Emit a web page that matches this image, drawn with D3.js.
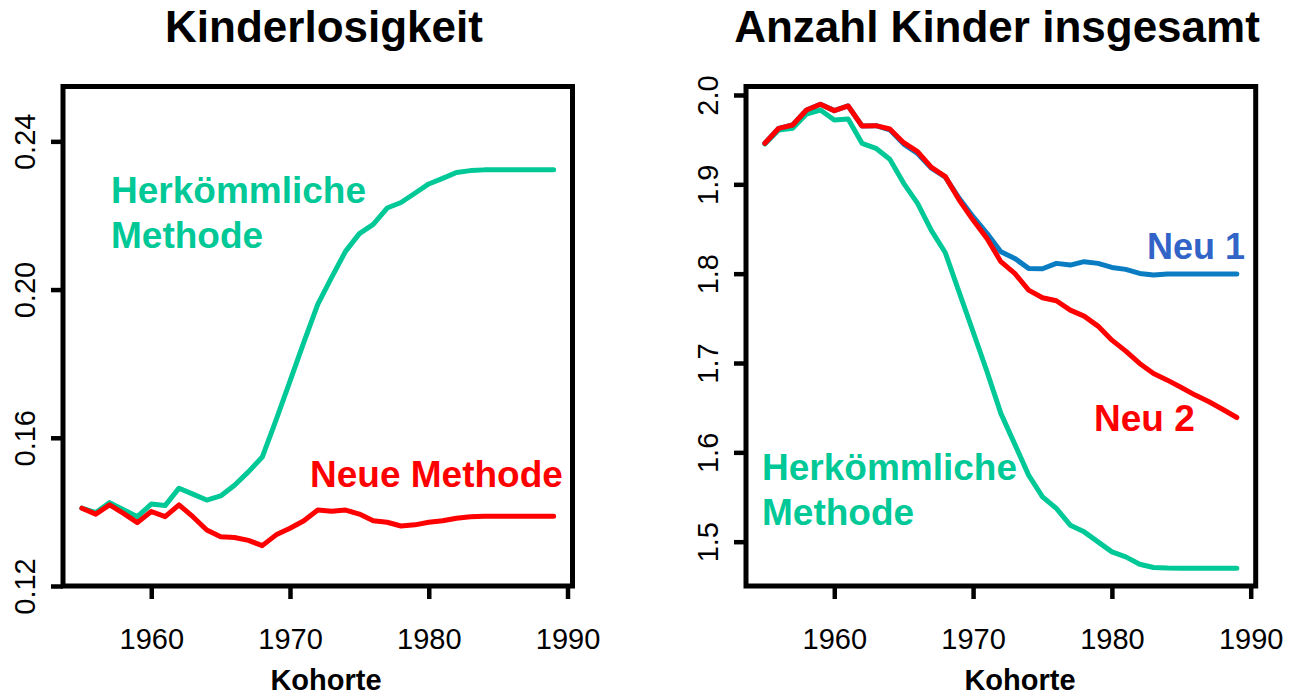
<!DOCTYPE html>
<html>
<head>
<meta charset="utf-8">
<script src="https://cdn.jsdelivr.net/npm/d3@7"></script>
<style>
  body { margin: 0; background: #fff; }
  text { font-family: "Liberation Sans", Arial, Helvetica, sans-serif; }
</style>
</head>
<body>
<div id="chart"></div>
<script>
// Kohorten 1955 - 1989
var years = d3.range(1955, 1990);

// Kinderlosigkeit (Anteil)
var kinderlosHerk = [0.1410, 0.1398, 0.1425, 0.1406, 0.1387, 0.1421, 0.1417, 0.1464, 0.1448, 0.1432,
    0.1443, 0.1472, 0.1508, 0.1548, 0.1648, 0.1753, 0.1858, 0.1960, 0.2033, 0.2103,
    0.2151, 0.2176, 0.2220, 0.2235, 0.2260, 0.2285, 0.2300, 0.2316, 0.2321, 0.2323,
    0.2323, 0.2323, 0.2323, 0.2323, 0.2323];
var kinderlosNeu = [0.1410, 0.1394, 0.1419, 0.1396, 0.1371, 0.1401, 0.1387, 0.1419, 0.1387, 0.1351,
    0.1333, 0.1331, 0.1323, 0.1309, 0.1338, 0.1356, 0.1376, 0.1405, 0.1402, 0.1405,
    0.1394, 0.1376, 0.1372, 0.1362, 0.1365, 0.1372, 0.1376, 0.1383, 0.1387, 0.1388,
    0.1388, 0.1388, 0.1388, 0.1388, 0.1388];

// Anzahl Kinder insgesamt
var kinderHerk = [1.9452, 1.9608, 1.9627, 1.9787, 1.9832, 1.9720, 1.9731, 1.9459, 1.9403, 1.9280,
    1.9011, 1.8787, 1.8481, 1.8234, 1.7790, 1.7350, 1.6905, 1.6436, 1.6092, 1.5745,
    1.5502, 1.5372, 1.5185, 1.5110, 1.4998, 1.4886, 1.4830, 1.4748, 1.4711, 1.4705,
    1.4703, 1.4703, 1.4703, 1.4703, 1.4703];
var kinderNeu1 = [1.9459, 1.9627, 1.9664, 1.9832, 1.9896, 1.9825, 1.9877, 1.9653, 1.9657, 1.9610,
    1.9450, 1.9345, 1.9180, 1.9080, 1.8843, 1.8638, 1.8451, 1.8246, 1.8171, 1.8059,
    1.8055, 1.8115, 1.8096, 1.8134, 1.8115, 1.8070, 1.8048, 1.8003, 1.7984, 1.7995,
    1.7995, 1.7995, 1.7995, 1.7995, 1.7995];
var kinderNeu2 = [1.9459, 1.9627, 1.9664, 1.9832, 1.9896, 1.9825, 1.9877, 1.9653, 1.9657, 1.9619,
    1.9466, 1.9365, 1.9190, 1.9086, 1.8824, 1.8600, 1.8395, 1.8134, 1.8003, 1.7816,
    1.7730, 1.7697, 1.7592, 1.7525, 1.7413, 1.7256, 1.7133, 1.6995, 1.6883, 1.6808,
    1.6726, 1.6641, 1.6566, 1.6480, 1.6390];

var xTicks = [1960, 1970, 1980, 1990];
var yTicksLeft = [0.12, 0.16, 0.20, 0.24];
var yTicksRight = [1.5, 1.6, 1.7, 1.8, 1.9, 2.0];

var teal = "#00c896", red = "#ff0000", blueLine = "#0a7cc2", blueText = "#3264c8";

var svg = d3.select("#chart")
    .append("svg")
    .attr("width", 1301)
    .attr("height", 697);

function panel(opt) {
    var x = d3.scaleLinear().domain([1953.64, 1990.36]).range([opt.left, opt.right]);
    var y = d3.scaleLinear().domain(opt.yDomain).range([586, 86.5]);
    var g = svg.append("g");

    // x axis
    var xAxis = g.append("g")
        .attr("transform", "translate(0,586)")
        .call(d3.axisBottom(x).tickValues(xTicks).tickFormat(d3.format("d")).tickSize(13).tickPadding(29));
    xAxis.select(".domain").remove();
    xAxis.selectAll(".tick line").attr("stroke-width", 4.5);
    xAxis.selectAll(".tick text")
        .style("font-size", "29px")
        .attr("fill", "#000");

    // y axis, rotated labels
    var yAxis = g.append("g")
        .attr("transform", "translate(" + opt.left + ",0)")
        .call(d3.axisLeft(y).tickValues(opt.yTicks).tickFormat(opt.yFormat).tickSize(12));
    yAxis.select(".domain").remove();
    yAxis.selectAll(".tick line").attr("stroke-width", 4.5);
    yAxis.selectAll(".tick text")
        .attr("x", 0).attr("dy", null)
        .attr("transform", "translate(-28,0) rotate(-90)")
        .attr("text-anchor", "middle")
        .style("font-size", "29px")
        .attr("fill", "#000");

    var line = d3.line()
        .x(function (d, i) { return x(years[i]); })
        .y(function (d) { return y(d); });

    opt.series.forEach(function (s) {
        g.append("path")
            .datum(s.values)
            .attr("d", line)
            .attr("fill", "none")
            .attr("stroke", s.color)
            .attr("stroke-width", 5)
            .attr("stroke-linejoin", "round")
            .attr("stroke-linecap", "round");
    });

    // box
    g.append("rect")
        .attr("x", opt.left).attr("y", 86.5)
        .attr("width", opt.right - opt.left).attr("height", 586 - 86.5)
        .attr("fill", "none")
        .attr("stroke", "#000")
        .attr("stroke-width", 5);

    g.append("text")
        .attr("x", opt.titleX).attr("y", 42)
        .attr("text-anchor", "middle")
        .style("font-size", "44px").style("font-weight", "bold")
        .text(opt.title);

    g.append("text")
        .attr("x", opt.xLabelX).attr("y", 690)
        .attr("text-anchor", "middle")
        .style("font-size", "29px").style("font-weight", "bold")
        .text("Kohorte");

    opt.labels.forEach(function (l) {
        var t = g.append("text")
            .attr("x", l.x).attr("y", l.y)
            .attr("fill", l.color)
            .style("font-size", l.size + "px").style("font-weight", "bold");
        l.lines.forEach(function (s, i) {
            t.append("tspan").attr("x", l.x).attr("dy", i === 0 ? 0 : 44.5).text(s);
        });
    });
}

panel({
    left: 63, right: 572.5,
    yDomain: [0.12, 0.2548],
    yTicks: yTicksLeft,
    yFormat: d3.format(".2f"),
    title: "Kinderlosigkeit", titleX: 324, xLabelX: 326,
    series: [
        { values: kinderlosHerk, color: teal },
        { values: kinderlosNeu, color: red }
    ],
    labels: [
        { lines: ["Herkömmliche", "Methode"], x: 111, y: 203, color: teal, size: 37 },
        { lines: ["Neue Methode"], x: 310, y: 487, color: red, size: 37 }
    ]
});

panel({
    left: 746, right: 1255.7,
    yDomain: [1.4504, 2.0095],
    yTicks: yTicksRight,
    yFormat: d3.format(".1f"),
    title: "Anzahl Kinder insgesamt", titleX: 997, xLabelX: 1020,
    series: [
        { values: kinderHerk, color: teal },
        { values: kinderNeu1, color: blueLine },
        { values: kinderNeu2, color: red }
    ],
    labels: [
        { lines: ["Neu 1"], x: 1147, y: 259, color: blueText, size: 36 },
        { lines: ["Neu 2"], x: 1094, y: 431, color: red, size: 37 },
        { lines: ["Herkömmliche", "Methode"], x: 762, y: 480, color: teal, size: 37 }
    ]
});
</script>
</body>
</html>
